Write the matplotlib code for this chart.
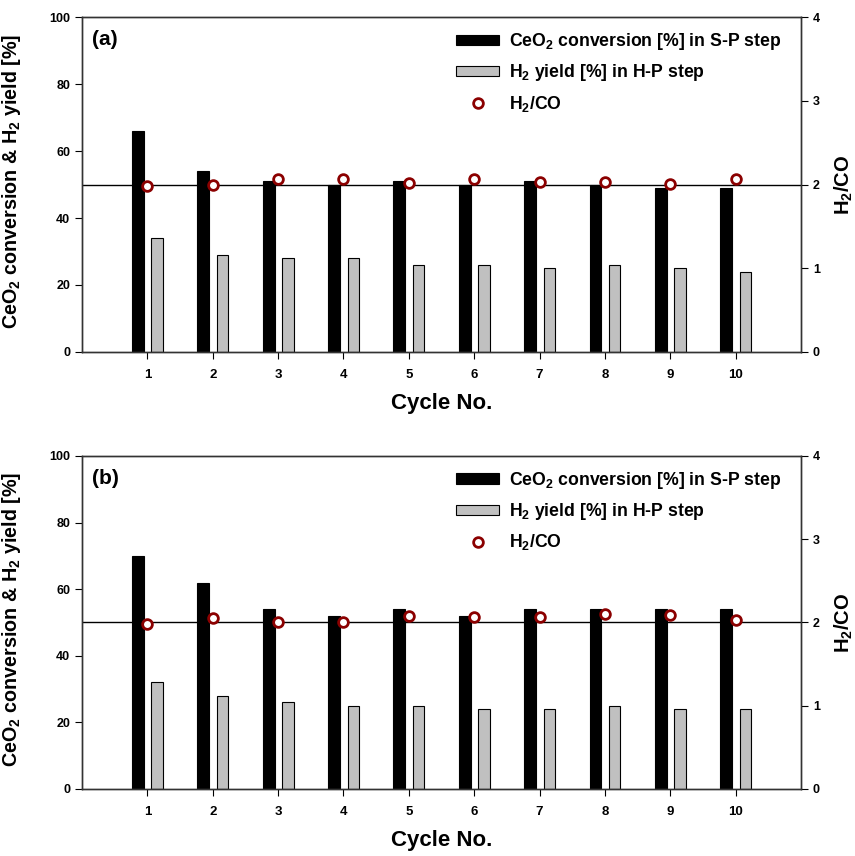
import matplotlib
matplotlib.use('Agg')
import matplotlib.pyplot as plt
import numpy as np

plt.rcParams['font.family'] = ['Liberation Sans', 'DejaVu Sans']
plt.rcParams['font.weight'] = 'bold'
plt.rcParams['mathtext.fontset'] = 'custom'
plt.rcParams['mathtext.rm'] = 'Liberation Sans:bold'
plt.rcParams['mathtext.bf'] = 'Liberation Sans:bold'
plt.rcParams['mathtext.it'] = 'Liberation Sans:bold'

# datos
cycles = np.arange(1, 11)
ceo2_a = [66, 54, 51, 50, 51, 50, 51, 50, 49, 49]
h2_a = [34, 29, 28, 28, 26, 26, 25, 26, 25, 24]
ratio_a = [1.98, 2.00, 2.07, 2.06, 2.02, 2.06, 2.03, 2.03, 2.01, 2.07]

ceo2_b = [70, 62, 54, 52, 54, 52, 54, 54, 54, 54]
h2_b = [32, 28, 26, 25, 25, 24, 24, 25, 24, 24]
ratio_b = [1.98, 2.05, 2.01, 2.00, 2.08, 2.07, 2.07, 2.10, 2.09, 2.03]

panels = ['(a)', '(b)']
narrow = ['Liberation Sans Narrow', 'Liberation Sans', 'DejaVu Sans']


def panel(rect, label, ceo2, h2, ratio):
    ax = fig.add_axes(rect)
    ax.bar(cycles - 0.145, ceo2, width=0.18, color='black', edgecolor='black',
           linewidth=0.8, label=r'CeO$_{\mathbf{2}}$ conversion [%] in S-P step', zorder=2)
    ax.bar(cycles + 0.15, h2, width=0.175, color='#c0c0c0', edgecolor='black',
           linewidth=0.8, label=r'H$_{\mathbf{2}}$ yield [%] in H-P step', zorder=2)
    ax.axhline(50, color='black', lw=1, zorder=1)
    ax.set_xlim(0, 11)
    ax.set_ylim(0, 100)
    ax.set_xticks(cycles)
    ax.set_xticklabels([str(c) for c in cycles], family=narrow, fontsize=9.5, fontweight='bold')
    ax.set_yticks(np.arange(0, 101, 20))
    ax.tick_params(axis='y', labelsize=9, direction='out', length=5)
    ax.tick_params(axis='x', direction='out', length=5, pad=7)
    ax.set_ylabel(r'CeO$_{\mathbf{2}}$ conversion & H$_{\mathbf{2}}$ yield [%]',
                  fontsize=14.2, fontweight='bold')
    ax.yaxis.set_label_coords(-0.082, 0.51)
    ax.set_xlabel('Cycle No.', family=narrow, fontsize=16, fontweight='bold', labelpad=9)
    ax.text(0.014, 0.96, label, transform=ax.transAxes, fontsize=15,
            fontweight='bold', va='top', ha='left')

    ax2 = ax.twinx()
    ax2.plot(cycles, ratio, 'o', ms=7, mfc='white', mec='#8b0000', mew=2,
             label=r'H$_{\mathbf{2}}$/CO', zorder=3)
    ax2.set_ylim(0, 4)
    ax2.set_yticks([0, 1, 2, 3, 4])
    ax2.tick_params(axis='y', labelsize=9, direction='out', length=5)
    ax2.set_ylabel(r'H$_{\mathbf{2}}$/CO', fontsize=14.5, fontweight='bold')
    ax2.yaxis.set_label_coords(1.044, 0.5)

    for a in (ax, ax2):
        for s in a.spines.values():
            s.set_color('#333333')
            s.set_linewidth(1)

    h1, l1 = ax.get_legend_handles_labels()
    h2_, l2 = ax2.get_legend_handles_labels()
    ax2.legend(h1 + h2_, l1 + l2, loc='upper right', bbox_to_anchor=(0.99, 0.995),
               frameon=False, fontsize=12.7, handlelength=2.4, handleheight=0.55,
               labelspacing=0.58, handletextpad=0.6, borderaxespad=0.3)
    return ax


fig = plt.figure(figsize=(8.55, 8.56), dpi=100)
panel([0.0959, 0.5888, 0.841, 0.3913], panels[0], ceo2_a, h2_a, ratio_a)
panel([0.0959, 0.0783, 0.841, 0.389], panels[1], ceo2_b, h2_b, ratio_b)
fig.savefig('out.png', dpi=100)
